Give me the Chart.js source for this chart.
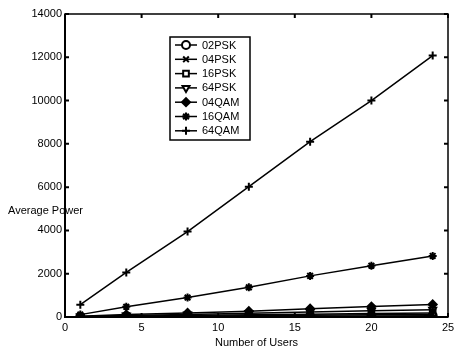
<!DOCTYPE html>
<html>
<head>
<meta charset="utf-8">
<script src="https://cdn.jsdelivr.net/npm/chart.js@4/dist/chart.umd.min.js"></script>
<style>
  html, body { margin: 0; padding: 0; background: #fff; }
  #wrap { position: relative; width: 454px; height: 351px; }
</style>
</head>
<body>
<div id="wrap"><canvas id="chart" width="454" height="351"></canvas></div>
<script>
// --- data ---
const users = [1, 4, 8, 12, 16, 20, 24];
const seriesNames = ['02PSK', '04PSK', '16PSK', '64PSK', '04QAM', '16QAM', '64QAM'];
const psk02 = [2, 10, 20, 30, 40, 50, 60];
const psk04 = [5, 20, 40, 60, 80, 100, 120];
const psk16 = [10, 40, 70, 100, 130, 160, 190];
const psk64 = [20, 70, 120, 170, 230, 290, 330];
const qam04 = [30, 110, 190, 270, 380, 480, 580];
const qam16 = [110, 470, 900, 1370, 1900, 2370, 2820];
const qam64 = [570, 2060, 3950, 6020, 8100, 10000, 12080];
const xTicks = [0, 5, 10, 15, 20, 25];
const yTicks = [0, 2000, 4000, 6000, 8000, 10000, 12000, 14000];

const allValues = [psk02, psk04, psk16, psk64, qam04, qam16, qam64];
const markers = [
  { style: 'circle', rot: 0, fill: false },
  { style: 'crossRot', rot: 0, fill: false },
  { style: 'rect', rot: 0, fill: false },
  { style: 'triangle', rot: 180, fill: false },
  { style: 'rectRot', rot: 0, fill: true },
  { style: 'star', rot: 0, fill: false },
  { style: 'cross', rot: 0, fill: false }
];

const FONT = 'Arial, "Liberation Sans", sans-serif';

const datasets = allValues.map((vals, i) => ({
  label: seriesNames[i],
  data: users.map((u, j) => ({ x: u, y: vals[j] })),
  borderColor: '#000',
  borderWidth: 1.5,
  pointStyle: markers[i].style,
  pointRotation: markers[i].rot,
  pointRadius: 4,
  pointBorderWidth: 2,
  pointBorderColor: '#000',
  pointBackgroundColor: markers[i].fill ? '#000' : 'rgba(0,0,0,0)',
  tension: 0
}));

// box, inward ticks, y title and legend
const decorations = {
  id: 'decorations',
  afterDraw(chart) {
    const ctx = chart.ctx;
    const { left, right, top, bottom } = chart.chartArea;
    const xs = chart.scales.x, ys = chart.scales.y;
    ctx.save();
    ctx.strokeStyle = '#000';
    ctx.lineWidth = 1.5;
    ctx.strokeRect(left, top, right - left, bottom - top);
    ctx.lineWidth = 2;
    ctx.beginPath();
    ctx.moveTo(left, top); ctx.lineTo(left, bottom); ctx.lineTo(right, bottom);
    ctx.stroke();

    // inward ticks
    ctx.lineWidth = 2;
    ctx.beginPath();
    xTicks.forEach(v => {
      const px = xs.getPixelForValue(v);
      ctx.moveTo(px, bottom); ctx.lineTo(px, bottom - 4);
      ctx.moveTo(px, top); ctx.lineTo(px, top + 4);
    });
    yTicks.forEach(v => {
      const py = ys.getPixelForValue(v);
      ctx.moveTo(left, py); ctx.lineTo(left + 4, py);
      ctx.moveTo(right, py); ctx.lineTo(right - 4, py);
    });
    ctx.stroke();

    // y axis title, horizontal, over the axis
    ctx.fillStyle = '#000';
    ctx.font = '11px ' + FONT;
    ctx.textAlign = 'left';
    ctx.textBaseline = 'middle';
    ctx.fillText('Average Power', 8, 211);

    // legend box
    const bx = 170, by = 37, bw = 80, bh = 103;
    ctx.fillStyle = '#fff';
    ctx.fillRect(bx, by, bw, bh);
    ctx.lineWidth = 1.5;
    ctx.strokeRect(bx, by, bw, bh);
    seriesNames.forEach((name, i) => {
      const y = 45 + i * 14.3;
      ctx.lineWidth = 1.5;
      ctx.strokeStyle = '#000';
      ctx.beginPath();
      ctx.moveTo(175, y); ctx.lineTo(197, y);
      ctx.stroke();
      ctx.lineWidth = 2;
      ctx.fillStyle = markers[i].fill ? '#000' : '#fff';
      Chart.helpers.drawPoint(ctx, {
        pointStyle: markers[i].style,
        rotation: markers[i].rot,
        radius: 4,
        borderWidth: 2
      }, 186, y);
      ctx.fillStyle = '#000';
      ctx.fillText(name, 202, y + 0.5);
    });
    ctx.restore();
  }
};

new Chart(document.getElementById('chart'), {
  type: 'line',
  data: { datasets },
  options: {
    responsive: false,
    animation: false,
    layout: { padding: { top: 14, right: 2, left: 0, bottom: 0 } },
    plugins: { legend: { display: false }, tooltip: { enabled: false } },
    scales: {
      x: {
        type: 'linear',
        min: 0, max: 25,
        afterBuildTicks: s => { s.ticks = xTicks.map(v => ({ value: v })); },
        afterFit: s => { s.height = 34; s.paddingLeft = 0; s.paddingRight = 0; },
        grid: { display: false, drawTicks: false },
        border: { display: false },
        ticks: { color: '#000', font: { size: 11, family: FONT }, padding: 4, maxRotation: 0 },
        title: { display: true, text: 'Number of Users', color: '#000', font: { size: 11, family: FONT }, padding: { top: 0, bottom: 1 } }
      },
      y: {
        type: 'linear',
        min: 0, max: 14000,
        afterBuildTicks: s => { s.ticks = yTicks.map(v => ({ value: v })); },
        afterFit: s => { s.width = 65; s.paddingTop = 0; s.paddingBottom = 0; },
        grid: { display: false, drawTicks: false },
        border: { display: false },
        ticks: { color: '#000', font: { size: 11, family: FONT }, padding: 3, callback: v => String(v) }
      }
    }
  },
  plugins: [decorations]
});
</script>
</body>
</html>
